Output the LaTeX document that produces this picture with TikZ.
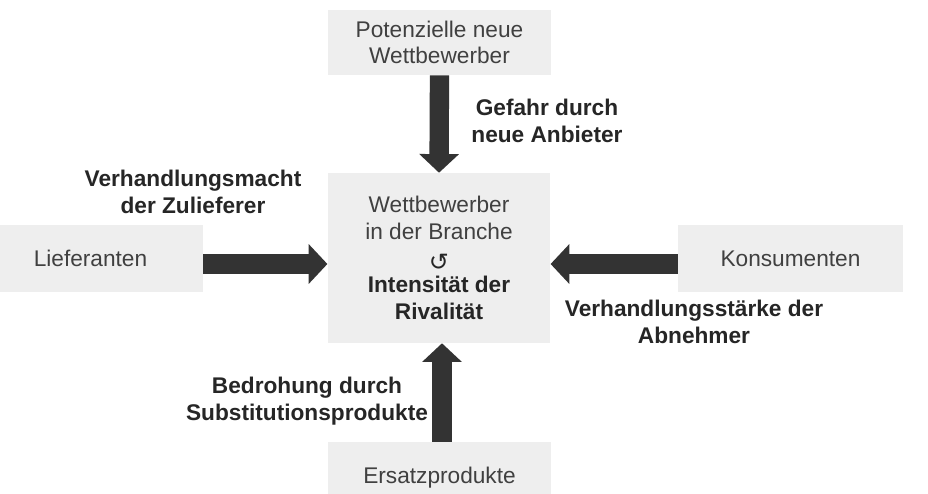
\documentclass[tikz,border=0pt]{standalone}
\usepackage{fontspec}
\setmainfont{Liberation Sans}
\newfontfamily\symfont{DejaVu Sans}
\usetikzlibrary{arrows.meta}
\definecolor{boxgray}{HTML}{EEEEEE}
\definecolor{arrowgray}{HTML}{333333}
\definecolor{txtgray}{HTML}{404040}
\definecolor{boldtxt}{HTML}{262626}
\begin{document}
\begin{tikzpicture}[x=0.75pt,y=-0.75pt,
  box/.style={fill=boxgray, draw=none, inner sep=0pt, text=txtgray, align=center,
    font=\fontsize{17}{20}\selectfont, minimum width=167pt},
  lbl/.style={text=boldtxt, align=center, inner sep=0pt,
    font=\fontsize{17}{20}\selectfont\bfseries},
  bigarrow/.style={draw=arrowgray, line width=14.5pt, -{Triangle[length=14pt,width=29pt]}},
]
\useasboundingbox (0,0) rectangle (928,493);
\clip (0,0) rectangle (928,493);
\fill[white] (0,0) rectangle (928,493);

\node[box, minimum height=49pt] (top) at (439.5,42.5) {Potenzielle neue\\Wettbewerber};
\node[box, minimum height=127.5pt] (center) at (439,258) {Wettbewerber\\in der Branche\\\raisebox{-3pt}{\symfont\fontsize{18}{20}\selectfont\textcolor{boldtxt}{↺}}\\\textcolor{boldtxt}{\bfseries Intensität der}\\\textcolor{boldtxt}{\bfseries Rivalität}};
\node[box, minimum width=168.75pt, minimum height=50.25pt] (lief) at (90.5,258.5) {Lieferanten};
\node[box, minimum width=168.75pt, minimum height=50.25pt] (kons) at (790.5,258.5) {Konsumenten};
\node[box, minimum height=49.5pt, text depth=0pt] (ers) at (439.5,475) {Ersatzprodukte};

\coordinate (hy) at (0,264);
\coordinate (bx) at (442,0);

\draw[bigarrow] (top.south) -- (center.north);
\draw[bigarrow] (lief.east |- hy) -- (center.west |- hy);
\draw[bigarrow] (kons.west |- hy) -- (center.east |- hy);
\draw[bigarrow] (bx |- ers.north) -- (bx |- center.south);

\node[lbl] (l1) at (547,121) {Gefahr durch\\neue Anbieter};
\node[lbl] (l2) at (193,192) {Verhandlungsmacht\\der Zulieferer};
\node[lbl] (l3) at (694,322) {Verhandlungsstärke der\\Abnehmer};
\node[lbl] (l4) at (307,401) {Bedrohung durch\\Substitutionsprodukte};
\end{tikzpicture}
\end{document}
